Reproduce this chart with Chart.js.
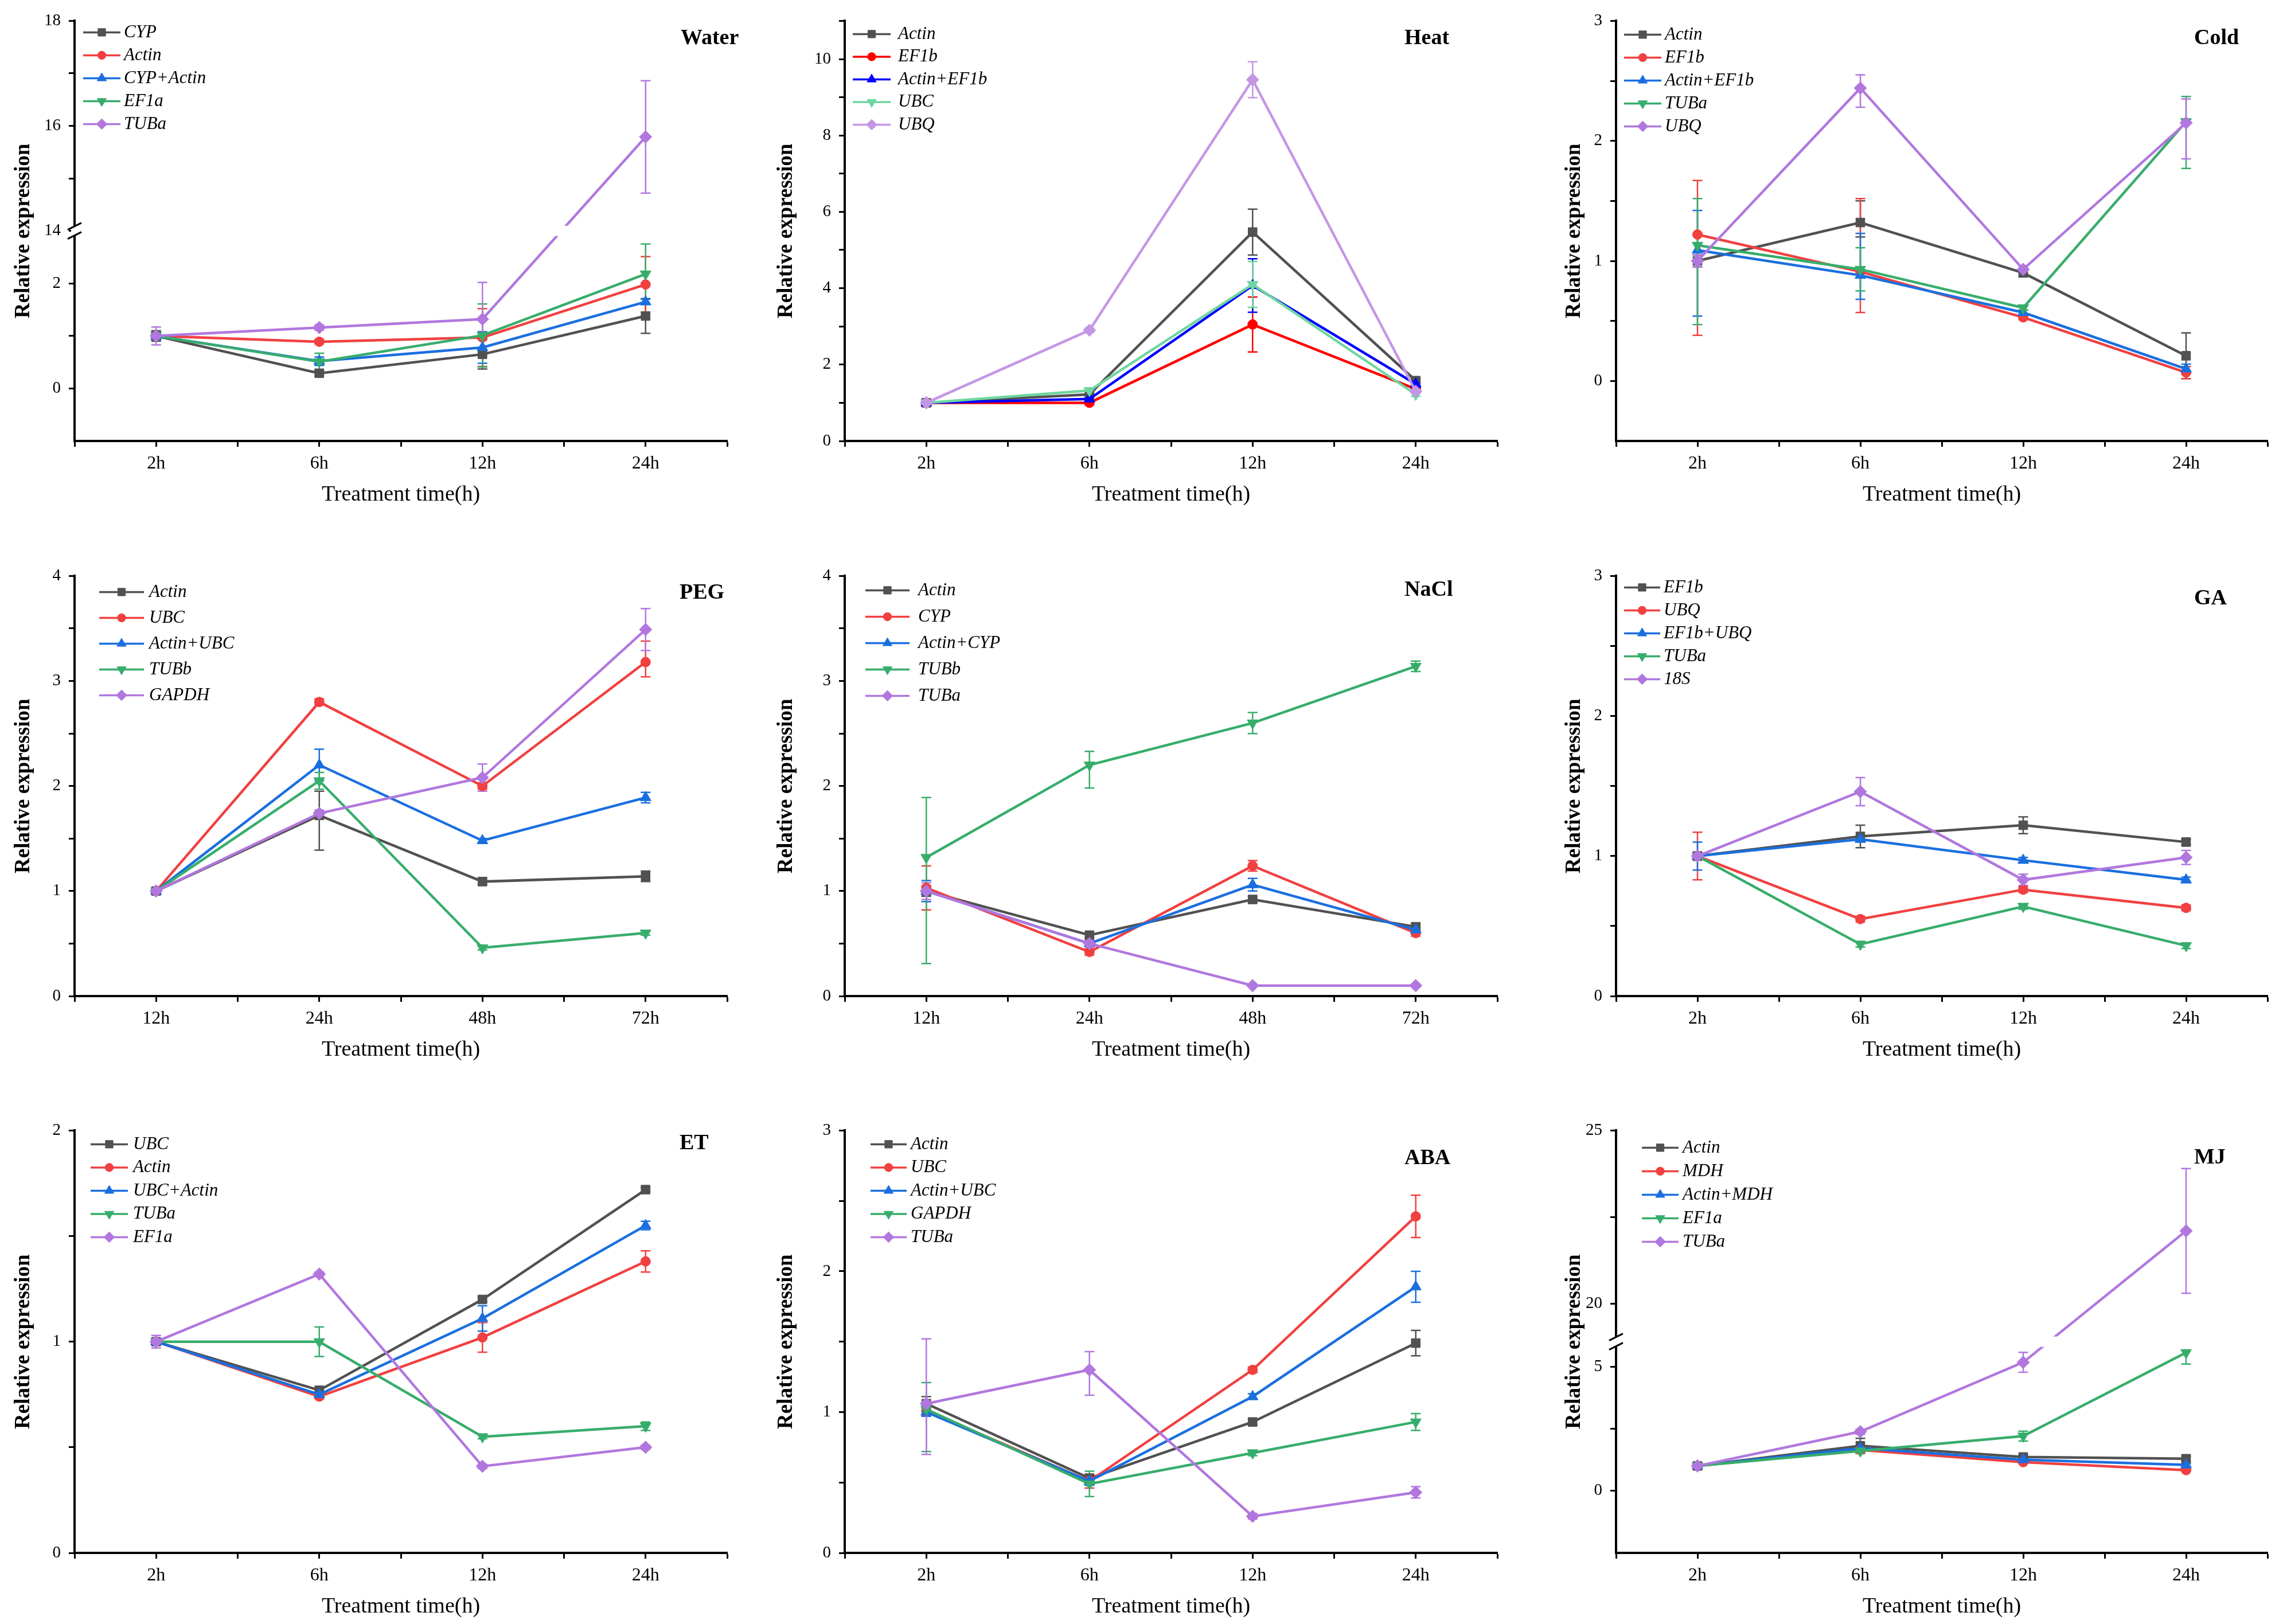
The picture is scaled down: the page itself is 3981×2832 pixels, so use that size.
<!DOCTYPE html>
<html lang="en">
<head>
    <meta charset="UTF-8">
    <title>Relative expression of reference genes</title>
    <script src="https://cdn.jsdelivr.net/npm/chart.js@4"></script>
    <style>
        html, body {
            margin: 0;
            padding: 0;
            background-color: #fff;
            overflow: hidden;
        }
        body {
            width: 3981px;
            height: 2832px;
            position: relative;
        }
        canvas {
            position: absolute;
        }
    </style>
</head>
<body>

    <script>
        // Time points
        const shortTimes = ['2h', '6h', '12h', '24h'];
        const longTimes = ['12h', '24h', '48h', '72h'];

        // Water
        const waterGenes = ['CYP', 'Actin', 'CYP+Actin', 'EF1a', 'TUBa'];
        const waterMean = [
            [1.0, 0.29, 0.65, 1.38],
            [1.0, 0.89, 0.97, 1.98],
            [1.0, 0.52, 0.78, 1.65],
            [1.0, 0.51, 1.01, 2.18],
            [1.0, 1.16, 1.32, 15.79]
        ];
        const waterSD = [
            [0.1, 0.05, 0.28, 0.33],
            [0.05, 0.04, 0.55, 0.53],
            [0.08, 0.08, 0.3, 0.05],
            [0.08, 0.16, 0.6, 0.57],
            [0.17, 0.05, 0.7, 1.07]
        ];
        const waterTicks = [0, 2, 14, 16, 18];
        const waterMinor = [1, 15, 17];

        // Heat
        const heatGenes = ['Actin', 'EF1b', 'Actin+EF1b', 'UBC', 'UBQ'];
        const heatMean = [
            [1.0, 1.22, 5.47, 1.58],
            [1.0, 1.0, 3.05, 1.36],
            [1.0, 1.1, 4.07, 1.49],
            [1.0, 1.32, 4.1, 1.22],
            [1.0, 2.9, 9.46, 1.3]
        ];
        const heatSD = [
            [0.05, 0.05, 0.6, 0.05],
            [0.05, 0.05, 0.72, 0.05],
            [0.05, 0.05, 0.7, 0.05],
            [0.05, 0.05, 0.6, 0.05],
            [0.1, 0.05, 0.47, 0.05]
        ];
        const heatTicks = [0, 2, 4, 6, 8, 10];
        const heatMinor = [1, 3, 5, 7, 9, 11];

        // Cold  ([down, up] where the bar is uneven)
        const coldGenes = ['Actin', 'EF1b', 'Actin+EF1b', 'TUBa', 'UBQ'];
        const coldMean = [
            [1.0, 1.32, 0.9, 0.21],
            [1.22, 0.91, 0.53, 0.07],
            [1.09, 0.88, 0.57, 0.1],
            [1.13, 0.93, 0.61, 2.16],
            [1.0, 2.44, 0.93, 2.15]
        ];
        const coldSD = [
            [0.05, [0.12, 0.18], 0.03, 0.19],
            [[0.84, 0.45], [0.34, 0.61], 0.02, 0.05],
            [[0.55, 0.33], [0.2, 0.35], 0.02, 0.04],
            [[0.66, 0.39], 0.18, 0.02, [0.39, 0.21]],
            [0.05, [0.16, 0.11], 0.03, [0.3, 0.2]]
        ];
        const coldTicks = [0, 1, 2, 3];
        const coldMinor = [0.5, 1.5, 2.5];

        // PEG
        const pegGenes = ['Actin', 'UBC', 'Actin+UBC', 'TUBb', 'GAPDH'];
        const pegMean = [
            [1.0, 1.72, 1.09, 1.14],
            [1.0, 2.8, 2.0, 3.18],
            [1.0, 2.2, 1.48, 1.89],
            [1.0, 2.05, 0.46, 0.6],
            [1.0, 1.74, 2.08, 3.49]
        ];
        const pegSD = [
            [0.02, [0.33, 0.23], 0.03, 0.05],
            [0.02, 0.03, 0.03, [0.14, 0.2]],
            [0.02, 0.15, 0.02, 0.05],
            [0.02, 0.08, 0.02, 0.02],
            [0.03, 0.03, 0.13, 0.2]
        ];
        const pegTicks = [0, 1, 2, 3, 4];
        const pegMinor = [0.5, 1.5, 2.5, 3.5];

        // NaCl
        const naclGenes = ['Actin', 'CYP', 'Actin+CYP', 'TUBb', 'TUBa'];
        const naclMean = [
            [1.0, 0.58, 0.92, 0.66],
            [1.03, 0.42, 1.24, 0.6],
            [1.0, 0.5, 1.06, 0.63],
            [1.32, 2.2, 2.6, 3.14],
            [1.0, 0.5, 0.1, 0.1]
        ];
        const naclSD = [
            [0.05, 0.02, 0.03, 0.03],
            [0.21, 0.03, 0.05, 0.03],
            [0.1, 0.03, 0.06, 0.03],
            [[1.01, 0.57], [0.22, 0.13], 0.1, 0.05],
            [0.08, 0.03, 0.01, 0.01]
        ];
        const naclTicks = [0, 1, 2, 3, 4];
        const naclMinor = [0.5, 1.5, 2.5, 3.5];

        // GA
        const gaGenes = ['EF1b', 'UBQ', 'EF1b+UBQ', 'TUBa', '18S'];
        const gaMean = [
            [1.0, 1.14, 1.22, 1.1],
            [1.0, 0.55, 0.76, 0.63],
            [1.0, 1.12, 0.97, 0.83],
            [1.0, 0.37, 0.64, 0.36],
            [1.0, 1.46, 0.83, 0.99]
        ];
        const gaSD = [
            [0.02, 0.08, 0.06, 0.02],
            [0.17, 0.02, 0.02, 0.02],
            [0.1, 0.02, 0.02, 0.02],
            [0.02, 0.02, 0.02, 0.02],
            [0.03, 0.1, 0.04, 0.05]
        ];
        const gaTicks = [0, 1, 2, 3];
        const gaMinor = [0.5, 1.5, 2.5];

        // ET
        const etGenes = ['UBC', 'Actin', 'UBC+Actin', 'TUBa', 'EF1a'];
        const etMean = [
            [1.0, 0.77, 1.2, 1.72],
            [1.0, 0.74, 1.02, 1.38],
            [1.0, 0.75, 1.11, 1.55],
            [1.0, 1.0, 0.55, 0.6],
            [1.0, 1.32, 0.41, 0.5]
        ];
        const etSD = [
            [0.01, 0.01, 0.01, 0.01],
            [0.01, 0.01, 0.07, 0.05],
            [0.01, 0.01, 0.06, 0.02],
            [0.01, 0.07, 0.01, 0.02],
            [0.03, 0.01, 0.01, 0.01]
        ];
        const etTicks = [0, 1, 2];
        const etMinor = [0.5, 1.5];

        // ABA
        const abaGenes = ['Actin', 'UBC', 'Actin+UBC', 'GAPDH', 'TUBa'];
        const abaMean = [
            [1.06, 0.53, 0.93, 1.49],
            [1.01, 0.51, 1.3, 2.39],
            [1.0, 0.51, 1.11, 1.89],
            [1.02, 0.49, 0.71, 0.93],
            [1.06, 1.3, 0.26, 0.43]
        ];
        const abaSD = [
            [0.05, 0.02, 0.02, 0.09],
            [0.03, 0.05, 0.02, 0.15],
            [0.03, 0.03, 0.02, 0.11],
            [[0.3, 0.19], 0.09, 0.02, 0.06],
            [[0.36, 0.46], [0.18, 0.13], 0.02, 0.04]
        ];
        const abaTicks = [0, 1, 2, 3];
        const abaMinor = [0.5, 1.5, 2.5];

        // MJ
        const mjGenes = ['Actin', 'MDH', 'Actin+MDH', 'EF1a', 'TUBa'];
        const mjMean = [
            [1.0, 1.81, 1.36, 1.29],
            [1.0, 1.64, 1.15, 0.83],
            [1.0, 1.71, 1.25, 1.04],
            [1.0, 1.6, 2.2, 5.56],
            [1.0, 2.38, 5.17, 22.1]
        ];
        const mjSD = [
            [0.05, 0.3, 0.1, 0.1],
            [0.05, 0.1, 0.05, 0.05],
            [0.05, 0.1, 0.05, 0.05],
            [0.05, 0.1, 0.2, [0.46, 0.1]],
            [0.05, 0.1, 0.4, 1.8]
        ];
        const mjTicks = [0, 5, 20, 25];
        const mjMinor = [2.5, 22.5];

        const SERIF = '"Liberation Serif", "Times New Roman", serif';
        const COLORS = ['#515151', '#F14040', '#1A6FDF', '#37AD6B', '#B177DE'];
        const HEAT_COLORS = ['#515151', '#FF0000', '#0000FF', '#6ED6A0', '#C497E5'];
        const MARKERS = [
            { style: 'rect', radius: 11, rot: 0 },
            { style: 'circle', radius: 8.5, rot: 0 },
            { style: 'triangle', radius: 11, rot: 0 },
            { style: 'triangle', radius: 11, rot: 180 },
            { style: 'rectRot', radius: 11, rot: 0 }
        ];

        // plot-area boxes by column and row
        const cols = [
            { L: 130, R: 1268, yW: 111 },
            { L: 1473, R: 2611, yW: 124 },
            { L: 2818, R: 3954, yW: 95 }
        ];
        const rows = [
            { T: 35, B: 769 },
            { T: 1003, B: 1737 },
            { T: 1970, B: 2708 }
        ];

        // range: [min, max] or [lowMin, lowMax, highMin, highMax] for a broken axis
        // legend: [line start, line end, text x, first row y, row step]; title: [x, y]
        const panels = [
            { name: 'Water', times: shortTimes, genes: waterGenes, mean: waterMean, sd: waterSD, ticks: waterTicks, minor: waterMinor,
              range: [-1, 3, 14, 18], colors: COLORS, legend: [15, 80, 86, 20, 40], title: [1057, 31] },
            { name: 'Heat', times: shortTimes, genes: heatGenes, mean: heatMean, sd: heatSD, ticks: heatTicks, minor: heatMinor,
              range: [0, 11], colors: HEAT_COLORS, legend: [14, 80, 93, 23, 39.5], title: [976, 31] },
            { name: 'Cold', times: shortTimes, genes: coldGenes, mean: coldMean, sd: coldSD, ticks: coldTicks, minor: coldMinor,
              range: [-0.5, 3], colors: COLORS, legend: [14, 79, 85, 24, 40], title: [1008, 31] },
            { name: 'PEG', times: longTimes, genes: pegGenes, mean: pegMean, sd: pegSD, ticks: pegTicks, minor: pegMinor,
              range: [0, 4], colors: COLORS, legend: [43, 121, 130, 28, 45], title: [1055, 30] },
            { name: 'NaCl', times: longTimes, genes: naclGenes, mean: naclMean, sd: naclSD, ticks: naclTicks, minor: naclMinor,
              range: [0, 4], colors: COLORS, legend: [36, 113, 128, 25, 46], title: [976, 25] },
            { name: 'GA', times: shortTimes, genes: gaGenes, mean: gaMean, sd: gaSD, ticks: gaTicks, minor: gaMinor,
              range: [0, 3], colors: COLORS, legend: [14, 77, 83, 20, 40], title: [1008, 40] },
            { name: 'ET', times: shortTimes, genes: etGenes, mean: etMean, sd: etSD, ticks: etTicks, minor: etMinor,
              range: [0, 2], colors: COLORS, legend: [28, 93, 102, 24, 40.5], title: [1055, 23] },
            { name: 'ABA', times: shortTimes, genes: abaGenes, mean: abaMean, sd: abaSD, ticks: abaTicks, minor: abaMinor,
              range: [0, 3], colors: COLORS, legend: [45, 108, 115, 24, 40.5], title: [976, 49] },
            { name: 'MJ', times: shortTimes, genes: mjGenes, mean: mjMean, sd: mjSD, ticks: mjTicks, minor: mjMinor,
              range: [-2.5, 6, 18.9, 25], colors: COLORS, legend: [45, 109, 116, 30, 41], title: [1008, 48] }
        ];

        // broken axis: each segment gets half of the height, values in the gap sit on the break
        function makeTransform(r) {
            if (r.length === 2) return v => v;
            const [a, b, c, d] = r;
            return v => {
                if (v <= b) return (v - a) / (b - a) * 0.5;
                if (v >= c) return 0.5 + (v - c) / (d - c) * 0.5;
                return 0.5;
            };
        }

        function drawMarker(ctx, m, x, y, radius) {
            if (Chart.helpers && Chart.helpers.drawPoint) {
                Chart.helpers.drawPoint(ctx, { pointStyle: m.style, rotation: m.rot, radius: radius, borderWidth: 1 }, x, y);
            } else {
                ctx.beginPath();
                ctx.arc(x, y, radius * 0.8, 0, Math.PI * 2);
                ctx.fill();
            }
        }

        const padTop = 30, padRight = 20, xH = 117;

        panels.forEach((p, n) => {
            const col = cols[n % 3], row = rows[Math.floor(n / 3)];
            const tr = makeTransform(p.range);
            const broken = p.range.length === 4;

            const canvas = document.createElement('canvas');
            const w = col.yW + (col.R - col.L) + padRight;
            const h = padTop + (row.B - row.T) + xH;
            canvas.width = w;
            canvas.height = h;
            canvas.style.width = w + 'px';
            canvas.style.height = h + 'px';
            canvas.style.left = (col.L - col.yW) + 'px';
            canvas.style.top = (row.T - padTop) + 'px';
            document.body.appendChild(canvas);

            const datasets = p.genes.map((g, i) => ({
                label: g,
                data: p.mean[i].map((v, j) => ({ x: j + 1, y: tr(v) })),
                borderColor: p.colors[i],
                backgroundColor: p.colors[i],
                borderWidth: 4.5,
                pointStyle: MARKERS[i].style,
                pointRadius: MARKERS[i].radius,
                pointRotation: MARKERS[i].rot,
                pointBorderWidth: 1,
                order: p.genes.length - i
            }));

            const decor = {
                id: 'decor',
                beforeDatasetsDraw(chart) {
                    const ctx = chart.ctx, xs = chart.scales.x, ys = chart.scales.y;
                    ctx.save();
                    ctx.lineWidth = 2.5;
                    p.mean.forEach((vals, i) => {
                        ctx.strokeStyle = p.colors[i];
                        vals.forEach((v, j) => {
                            const e = p.sd[i][j];
                            const dn = Array.isArray(e) ? e[0] : e;
                            const up = Array.isArray(e) ? e[1] : e;
                            const x = xs.getPixelForValue(j + 1);
                            const y1 = ys.getPixelForValue(tr(v - dn));
                            const y2 = ys.getPixelForValue(tr(v + up));
                            ctx.beginPath();
                            ctx.moveTo(x, y1); ctx.lineTo(x, y2);
                            ctx.moveTo(x - 8.5, y1); ctx.lineTo(x + 8.5, y1);
                            ctx.moveTo(x - 8.5, y2); ctx.lineTo(x + 8.5, y2);
                            ctx.stroke();
                        });
                    });
                    ctx.restore();
                },
                afterDatasetsDraw(chart) {
                    if (!broken) return;
                    const ctx = chart.ctx, ca = chart.chartArea;
                    const yb = chart.scales.y.getPixelForValue(0.5);
                    ctx.save();
                    ctx.fillStyle = '#fff';
                    ctx.fillRect(ca.left + 4, yb - 9, ca.right - ca.left - 4, 18);
                    ctx.fillRect(ca.left - 6, yb - 8, 12, 16);
                    ctx.strokeStyle = '#000';
                    ctx.lineWidth = 3;
                    [-8, 8].forEach(off => {
                        ctx.beginPath();
                        ctx.moveTo(ca.left - 12, yb + off + 6);
                        ctx.lineTo(ca.left + 12, yb + off - 6);
                        ctx.stroke();
                    });
                    ctx.restore();
                },
                afterDraw(chart) {
                    const ctx = chart.ctx, ca = chart.chartArea;
                    const [lx0, lx1, tx, y0, dy] = p.legend;
                    ctx.save();
                    ctx.textBaseline = 'middle';
                    ctx.textAlign = 'left';
                    p.genes.forEach((g, i) => {
                        const y = ca.top + y0 + i * dy;
                        ctx.strokeStyle = p.colors[i];
                        ctx.fillStyle = p.colors[i];
                        ctx.lineWidth = 3.5;
                        ctx.beginPath();
                        ctx.moveTo(ca.left + lx0, y);
                        ctx.lineTo(ca.left + lx1, y);
                        ctx.stroke();
                        ctx.lineWidth = 1;
                        drawMarker(ctx, MARKERS[i], ca.left + (lx0 + lx1) / 2, y, MARKERS[i].radius * 0.85);
                        ctx.fillStyle = '#000';
                        ctx.font = 'italic 31px ' + SERIF;
                        ctx.fillText(g, ca.left + tx, y);
                    });
                    ctx.font = 'bold 38px ' + SERIF;
                    ctx.fillText(p.name, ca.left + p.title[0], ca.top + p.title[1]);
                    ctx.restore();
                }
            };

            const axisGrid = { drawOnChartArea: false, drawTicks: true, tickLength: 10, tickWidth: 3, tickColor: '#000' };
            const axisBorder = { display: true, color: '#000', width: 4 };

            new Chart(canvas.getContext('2d'), {
                type: 'line',
                data: { datasets: datasets },
                options: {
                    responsive: false,
                    animation: false,
                    devicePixelRatio: 1,
                    layout: { padding: { top: padTop, right: padRight, left: 0, bottom: 0 } },
                    plugins: { legend: { display: false }, tooltip: { enabled: false } },
                    scales: {
                        x: {
                            type: 'linear',
                            min: 0.5,
                            max: p.times.length + 0.5,
                            afterFit: s => { s.height = xH; },
                            afterBuildTicks: s => {
                                const t = [];
                                for (let v = 0.5; v <= p.times.length + 0.5; v += 0.5) t.push({ value: v });
                                s.ticks = t;
                            },
                            ticks: {
                                autoSkip: false,
                                maxRotation: 0,
                                padding: 10,
                                color: '#000',
                                font: { family: SERIF, size: 32 },
                                callback: v => Number.isInteger(v) ? p.times[v - 1] : ''
                            },
                            grid: axisGrid,
                            border: axisBorder,
                            title: { display: true, text: 'Treatment time(h)', color: '#000', padding: 0,
                                     font: { family: SERIF, size: 38 } }
                        },
                        y: {
                            type: 'linear',
                            min: broken ? 0 : p.range[0],
                            max: broken ? 1 : p.range[1],
                            afterFit: s => { s.width = col.yW; },
                            afterBuildTicks: s => {
                                s.ticks = p.ticks.concat(p.minor).map(tr).sort((a, b) => a - b).map(v => ({ value: v }));
                            },
                            ticks: {
                                autoSkip: false,
                                padding: 14,
                                color: '#000',
                                font: { family: SERIF, size: 29 },
                                callback: v => {
                                    const k = p.ticks.findIndex(t => Math.abs(tr(t) - v) < 1e-9);
                                    return k >= 0 ? String(p.ticks[k]) : '';
                                }
                            },
                            grid: axisGrid,
                            border: axisBorder,
                            title: { display: true, text: 'Relative expression', color: '#000', padding: 0,
                                     font: { family: SERIF, size: 37, weight: 'bold' } }
                        }
                    }
                },
                plugins: [decor]
            });
        });
    </script>

</body>
</html>
